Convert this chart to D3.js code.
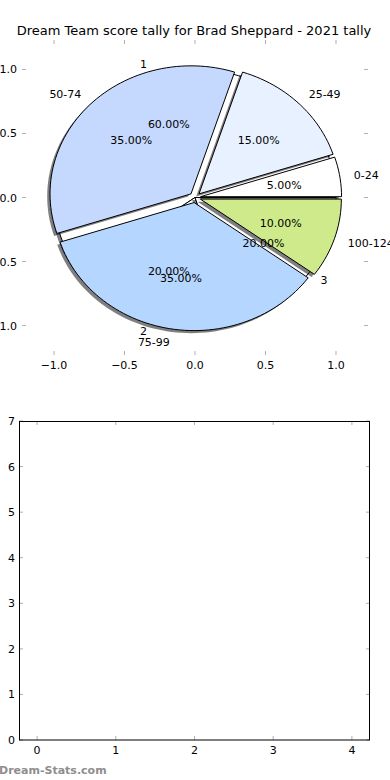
<!DOCTYPE html>
<html>
<head>
<meta charset="utf-8">
<script src="https://cdn.jsdelivr.net/npm/d3@7"></script>
<style>
  body { margin: 0; background: #fff; }
  text { font-family: "DejaVu Sans", sans-serif; }
</style>
</head>
<body>
<div id="container"></div>
<script>
/* CONSTANTS AND GLOBALS */
const width = 390, height = 780;

// score bands (main pie)
const bandLabels = ["0-24", "25-49", "50-74", "75-99", "100-124"];
const bandValues = [5, 15, 35, 35, 10];
const bandColors = ["#ffffff", "#e8f1ff", "#c5d9ff", "#b5d6ff", "#ceea8a"];
const bandExplode = [0.04, 0.04, 0.04, 0.04, 0.04];

// second pie drawn underneath
const subLabels = ["1", "2", "3"];
const subValues = [60, 20, 20];

// empty lower chart ticks
const lowerXTicks = [0, 1, 2, 3, 4];
const lowerYTicks = [0, 1, 2, 3, 4, 5, 6, 7];
const pieTicks = [-1.0, -0.5, 0.0, 0.5, 1.0];

const svg = d3.select("#container").append("svg")
  .attr("width", width)
  .attr("height", height);

/* TOP AXES (pie) */
const xScale = d3.scaleLinear().domain([-1.227, 1.227]).range([22, 368]);
const yScale = d3.scaleLinear().domain([-1.23, 1.23]).range([355, 40]);

svg.append("text")
  .attr("x", 194).attr("y", 35)
  .attr("text-anchor", "middle")
  .attr("font-size", 13)
  .text("Dream Team score tally for Brad Sheppard - 2021 tally");

// tick marks, no frame
const tickCol = "#b0b0b0";
const topTicks = svg.append("g");
pieTicks.forEach(t => {
  topTicks.append("line").attr("x1", xScale(t)).attr("x2", xScale(t))
    .attr("y1", 40).attr("y2", 44).attr("stroke", tickCol);
  topTicks.append("line").attr("x1", xScale(t)).attr("x2", xScale(t))
    .attr("y1", 355).attr("y2", 351).attr("stroke", tickCol);
  topTicks.append("line").attr("y1", yScale(t)).attr("y2", yScale(t))
    .attr("x1", 22).attr("x2", 26).attr("stroke", tickCol);
  topTicks.append("line").attr("y1", yScale(t)).attr("y2", yScale(t))
    .attr("x1", 368).attr("x2", 364).attr("stroke", tickCol);
  topTicks.append("text").attr("x", xScale(t)).attr("y", 369)
    .attr("text-anchor", "middle").attr("font-size", 11)
    .text(d3.format(".1f")(t).replace("-", "\u2212"));
  topTicks.append("text").attr("x", 17).attr("y", yScale(t) + 4)
    .attr("text-anchor", "end").attr("font-size", 11)
    .text(d3.format(".1f")(t).replace("-", "\u2212"));
});

function wedgePath(cx, cy, r, a0, a1) {
  const pts = [[xScale(cx), yScale(cy)]];
  const n = Math.max(2, Math.ceil((a1 - a0) / 2));
  for (let i = 0; i <= n; i++) {
    const a = (a0 + (a1 - a0) * i / n) * Math.PI / 180;
    pts.push([xScale(cx + r * Math.cos(a)), yScale(cy + r * Math.sin(a))]);
  }
  return d3.line()(pts) + "Z";
}

function pieSlices(values, explode) {
  const total = d3.sum(values);
  let start = 0;
  return values.map((v, i) => {
    const a0 = start, a1 = start + 360 * v / total;
    start = a1;
    const mid = (a0 + a1) / 2 * Math.PI / 180;
    const e = explode ? explode[i] : 0;
    return { i, a0, a1, mid, pct: 100 * v / total,
      cx: e * Math.cos(mid), cy: e * Math.sin(mid) };
  });
}

const sub = pieSlices(subValues, null);
const bands = pieSlices(bandValues, bandExplode);

const wedges = svg.append("g");
// second pie: shadow then white wedges
sub.forEach(s => {
  wedges.append("path").attr("d", wedgePath(s.cx - 0.02, s.cy - 0.02, 1, s.a0, s.a1))
    .attr("fill", "#000").attr("opacity", 0.5);
  wedges.append("path").attr("d", wedgePath(s.cx, s.cy, 1, s.a0, s.a1))
    .attr("fill", "#fff").attr("stroke", "#000").attr("stroke-width", 1);
});
// main pie
bands.forEach(s => {
  wedges.append("path").attr("d", wedgePath(s.cx - 0.02, s.cy - 0.02, 1, s.a0, s.a1))
    .attr("fill", "#000").attr("opacity", 0.5);
});
bands.forEach(s => {
  wedges.append("path").attr("d", wedgePath(s.cx, s.cy, 1, s.a0, s.a1))
    .attr("fill", bandColors[s.i]).attr("stroke", "#000").attr("stroke-width", 1);
});

// labels
const labels = svg.append("g").attr("font-size", 11);
function addPieText(slices, names) {
  slices.forEach(s => {
    const lx = s.cx + 1.1 * Math.cos(s.mid), ly = s.cy + 1.1 * Math.sin(s.mid);
    labels.append("text")
      .attr("x", xScale(lx)).attr("y", yScale(ly) + 4)
      .attr("text-anchor", Math.cos(s.mid) > 0.01 ? "start" : (Math.cos(s.mid) < -0.01 ? "end" : "middle"))
      .text(names[s.i]);
    const px = s.cx + 0.6 * Math.cos(s.mid), py = s.cy + 0.6 * Math.sin(s.mid);
    labels.append("text")
      .attr("x", xScale(px)).attr("y", yScale(py) + 4)
      .attr("text-anchor", "middle")
      .text(s.pct.toFixed(2) + "%");
  });
}
addPieText(sub, subLabels);
addPieText(bands, bandLabels);

/* BOTTOM AXES (empty) */
const x2 = d3.scaleLinear().domain([-0.23, 4.23]).range([19, 370]);
const y2 = d3.scaleLinear().domain([0, 7]).range([740, 421]);

const lower = svg.append("g");
lowerXTicks.forEach(t => {
  lower.append("line").attr("x1", x2(t)).attr("x2", x2(t))
    .attr("y1", 740).attr("y2", 736).attr("stroke", tickCol);
  lower.append("line").attr("x1", x2(t)).attr("x2", x2(t))
    .attr("y1", 421).attr("y2", 425).attr("stroke", tickCol);
  lower.append("text").attr("x", x2(t)).attr("y", 754)
    .attr("text-anchor", "middle").attr("font-size", 11).text(t);
});
lowerYTicks.forEach(t => {
  lower.append("line").attr("y1", y2(t)).attr("y2", y2(t))
    .attr("x1", 19).attr("x2", 23).attr("stroke", tickCol);
  lower.append("line").attr("y1", y2(t)).attr("y2", y2(t))
    .attr("x1", 370).attr("x2", 366).attr("stroke", tickCol);
  lower.append("text").attr("x", 15).attr("y", y2(t) + 4)
    .attr("text-anchor", "end").attr("font-size", 11).text(t);
});
lower.append("rect")
  .attr("x", 19.5).attr("y", 421.5).attr("width", 350).attr("height", 318.5)
  .attr("fill", "none").attr("stroke", "#000").attr("stroke-width", 1);

// watermark
svg.append("text")
  .attr("x", -1).attr("y", 774)
  .attr("font-size", 11).attr("font-weight", "bold")
  .attr("fill", "#8e8e8e")
  .text("Dream-Stats.com");
</script>
</body>
</html>
